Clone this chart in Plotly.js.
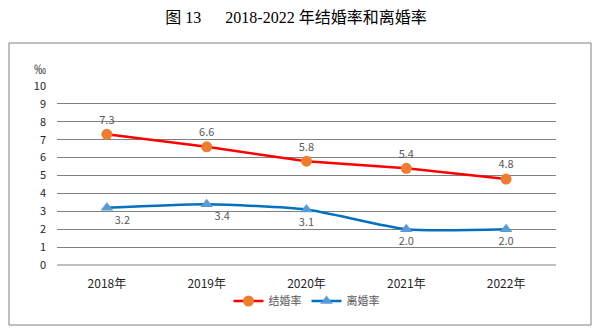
<!DOCTYPE html>
<html><head><meta charset="utf-8">
<script src="https://cdn.plot.ly/plotly-3.0.1.min.js"></script>
<style>html,body{margin:0;padding:0;background:#fff}#c{width:600px;height:333px}</style>
</head><body><div id="c"></div>
<script>
var years = ['2018年','2019年','2020年','2021年','2022年'];
var marriageRate = [7.3, 6.6, 5.8, 5.4, 4.8];
var divorceRate = [3.2, 3.4, 3.1, 2.0, 2.0];
var seriesNames = ['结婚率','离婚率'];
var yTicks = [0,1,2,3,4,5,6,7,8,9,10];

var cjk = '"Noto Sans CJK SC", "Noto Sans", sans-serif';
var traces = [
  {x: years, y: marriageRate, name: seriesNames[0], type:'scatter', mode:'lines+markers+text',
   line:{color:'#FF0000', width:2.5},
   marker:{color:'#ED7D31', size:11, symbol:'circle'},
   text: marriageRate.map(function(v){return v.toFixed(1);}),
   textposition:'top center', textfont:{family:cjk, size:11, color:'#595959'},
   cliponaxis:false},
  {x: years, y: divorceRate, name: seriesNames[1], type:'scatter', mode:'lines+markers+text',
   line:{color:'#0070C0', width:2.5, shape:'spline', smoothing:0.6},
   marker:{color:'#5B9BD5', size:11, symbol:'triangle-up'},
   text: divorceRate.map(function(v){return v.toFixed(1);}),
   textposition:['bottom right','bottom right','bottom center','bottom center','bottom center'],
   textfont:{family:cjk, size:11, color:'#595959'},
   cliponaxis:false}
];
var layout = {
  width:600, height:333,
  margin:{l:57, r:44, t:86, b:68},
  paper_bgcolor:'#fff', plot_bgcolor:'#fff',
  font:{family:cjk, color:'#404040'},
  title:{text:'图 13\u3000\u20022018-2022 年结婚率和离婚率', x:296/600, xref:'container', xanchor:'center',
         y:1-17/333, yref:'container', yanchor:'middle',
         font:{family:'"Liberation Serif", "Noto Sans CJK SC", serif', size:16, color:'#000'}},
  showlegend:true,
  legend:{orientation:'h', x:0.5, xanchor:'center', y:(265-301)/179, yanchor:'middle',
          bgcolor:'rgba(0,0,0,0)',
          font:{family:cjk, size:11, color:'#595959'}, itemwidth:30},
  xaxis:{type:'category', range:[-0.5,4.5], showgrid:false, zeroline:false, showline:false,
         ticks:'', ticklabelstandoff:10, tickfont:{family:cjk, size:12, color:'#262626'}, fixedrange:true},
  yaxis:{range:[0,10], tickvals:yTicks, ticktext:yTicks.map(String), showgrid:true,
         gridcolor:'#808080', gridwidth:1, zeroline:true, zerolinecolor:'#BFBFBF', zerolinewidth:2,
         showline:false, ticks:'', ticklabelstandoff:10,
         tickfont:{family:cjk, size:11, color:'#262626'}, fixedrange:true},
  shapes:[{type:'rect', xref:'paper', yref:'paper',
           x0:(9-57)/499, x1:(591-57)/499, y0:(265-325)/179, y1:(265-43)/179,
           line:{color:'#7F7F7F', width:1}, fillcolor:'rgba(0,0,0,0)', layer:'below'}],
  annotations:[{text:'‰', xref:'paper', yref:'paper', x:(40-57)/499, y:(265-68)/179,
                showarrow:false, xanchor:'center', yanchor:'middle',
                font:{family:cjk, size:12, color:'#262626'}}]
};
Plotly.newPlot('c', traces, layout, {displayModeBar:false, staticPlot:true});
</script></body></html>
